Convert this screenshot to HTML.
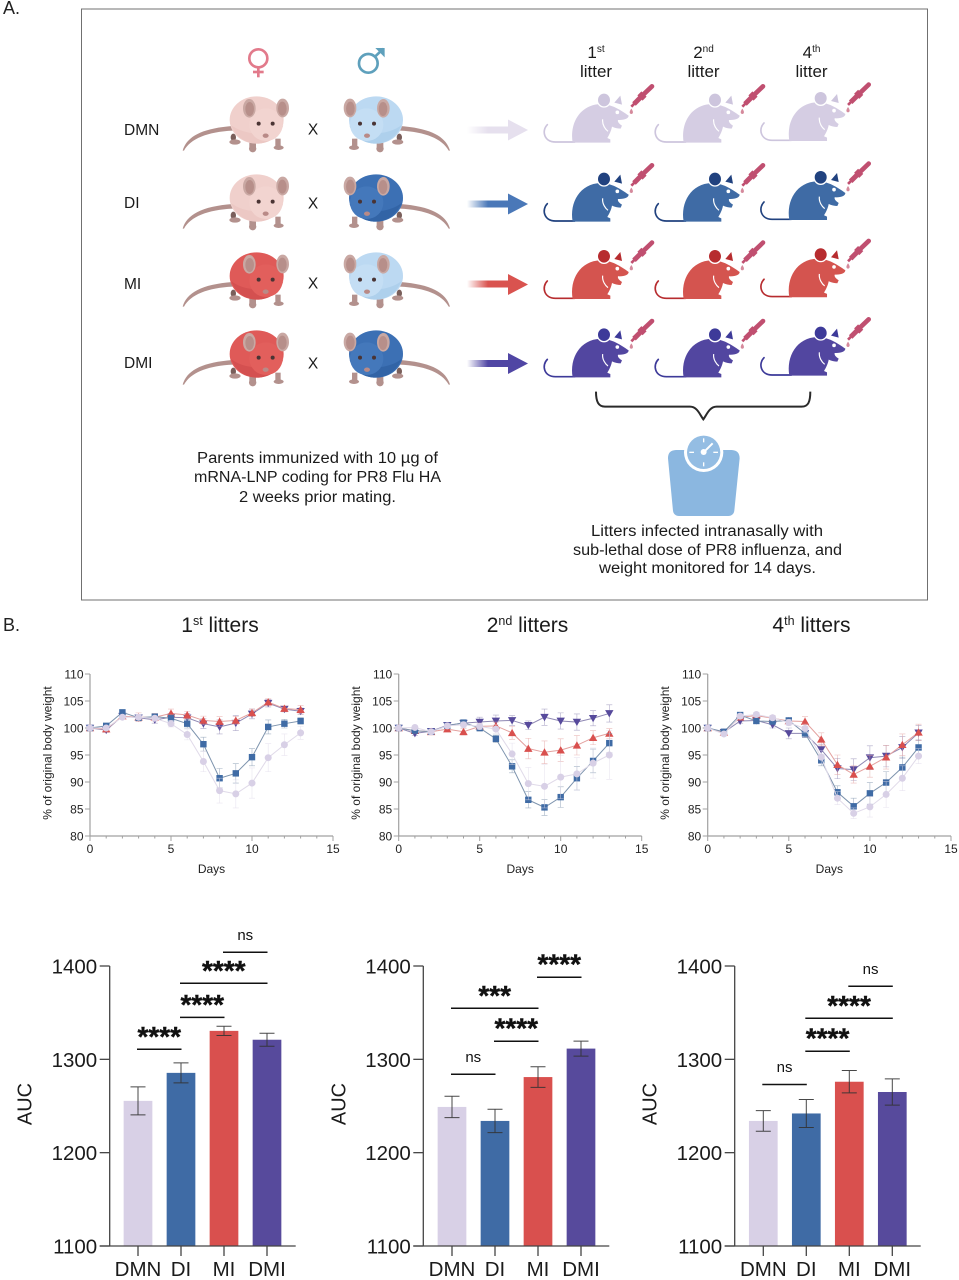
<!DOCTYPE html>
<html lang="en">
<head>
<meta charset="utf-8">
<title>Maternal and paternal immunization figure</title>
<style>
html,body{margin:0;padding:0;background:#fff;width:959px;height:1280px;overflow:hidden}
svg{display:block;font-family:"Liberation Sans",sans-serif}
.mm{fill:var(--m)}
.md{fill:var(--d)}
.mt{fill:none;stroke:var(--d);stroke-width:5;stroke-linecap:round}
.pb{fill:var(--body)}
.ph{fill:var(--head)}
.ps{fill:var(--shade)}
.schem{fill:#1b1b1b;font-size:15.5px}
.hdr{fill:#1b1b1b;font-size:17px}
</style>
</head>
<body>
<svg id="figure" xmlns="http://www.w3.org/2000/svg" width="959" height="1280" viewBox="0 0 959 1280">
<defs>
  <linearGradient id="fade-light" x1="0" x2="1" y1="0" y2="0"><stop offset="0" stop-color="#e6e0ee" stop-opacity="0"/><stop offset=".5" stop-color="#e6e0ee"/></linearGradient>
  <linearGradient id="fade-blue" x1="0" x2="1" y1="0" y2="0"><stop offset="0" stop-color="#4a78b8" stop-opacity="0"/><stop offset=".5" stop-color="#4a78b8"/></linearGradient>
  <linearGradient id="fade-red" x1="0" x2="1" y1="0" y2="0"><stop offset="0" stop-color="#d9534f" stop-opacity="0"/><stop offset=".5" stop-color="#d9534f"/></linearGradient>
  <linearGradient id="fade-purple" x1="0" x2="1" y1="0" y2="0"><stop offset="0" stop-color="#5046a4" stop-opacity="0"/><stop offset=".5" stop-color="#5046a4"/></linearGradient>

  <g id="parent-mouse">
    <path d="M38,362 C50,320 95,295 188,288 L188,302 C112,306 62,326 42,362 Z" fill="#b3918d"/>
    <ellipse cx="190" cy="322" rx="8" ry="11" fill="#7a5f5b"/>
    <ellipse cx="195" cy="336" rx="17" ry="8" fill="#b3918d"/>
    <ellipse cx="248" cy="356" rx="11" ry="11" fill="#b3918d"/>
    <ellipse cx="326" cy="353" rx="15" ry="7" fill="#b3918d"/>
    <rect x="238" y="328" width="20" height="24" fill="#b3918d"/>
    <rect x="316" y="326" width="16" height="24" fill="#b3918d"/>
    <ellipse class="pb" cx="260" cy="270" rx="81" ry="71"/>
    <path class="ps" d="M183,285 C200,322 225,339 260,341 C295,341 330,322 340,285 C330,308 240,328 183,285 Z"/>
    <ellipse class="ph" cx="288" cy="284" rx="50" ry="49"/>
    <ellipse cx="238" cy="235" rx="19" ry="28" fill="#c9a8a3"/>
    <ellipse cx="239" cy="237" rx="13" ry="21" fill="#b78f8a"/>
    <ellipse cx="338" cy="234" rx="19" ry="28" fill="#c9a8a3"/>
    <ellipse cx="337" cy="236" rx="13" ry="21" fill="#b78f8a"/>
    <circle cx="266" cy="281" r="6" fill="#4a3434"/>
    <circle cx="308" cy="281" r="6" fill="#4a3434"/>
    <ellipse cx="287" cy="317" rx="9" ry="6.5" fill="#b98a87"/>
  </g>

  <g id="litter-mouse">
    <path class="mt" d="M52,284 C34,302 42,336 76,336 L134,336"/>
    <path class="mm" d="M128,338 C118,280 150,224 212,222 C245,222 272,240 296,257 C296,265 284,271 264,270 C262,276 268,282 276,287 L272,296 C264,296 254,294 246,290 C244,302 238,314 232,324 L241,328 L241,338 Z"/>
    <ellipse class="md" cx="222" cy="210" rx="20" ry="21" stroke="#fff" stroke-width="4"/>
    <path class="md" d="M253,218 L271,197 L276,224 Z"/>
    <circle cx="262" cy="247" r="5.5" fill="#fff"/>
    <path d="M218,268 C216,284 226,298 234,304" fill="none" stroke="#fff" stroke-width="3.5"/>
    <g stroke="#c04f70" fill="none">
      <line x1="304" y1="230" x2="332" y2="202" stroke-width="8"/>
      <line x1="312" y1="222" x2="334" y2="200" stroke-width="15"/>
      <line x1="330" y1="204" x2="342" y2="192" stroke-width="22"/>
      <line x1="342" y1="192" x2="366" y2="169" stroke-width="14" stroke-linecap="round"/>
    </g>
    <path d="M304,236 C297,245 298,252 304,252 C310,252 311,245 304,236 Z" fill="#d58a9c"/>
  </g>
</defs>

<rect width="959" height="1280" fill="#fff"/>
<text x="3" y="14" font-size="18" fill="#222">A.</text>
<rect x="81.5" y="9" width="846" height="591" fill="none" stroke="#707070" stroke-width="1"/>

<g transform="translate(170,30) scale(.3333)" fill="none" stroke="#e27a8b" stroke-width="8">
  <circle cx="265" cy="85" r="27"/>
  <line x1="265" y1="112" x2="265" y2="142"/>
  <line x1="249" y1="126" x2="281" y2="126"/>
</g>
<g transform="translate(170,30) scale(.3333)" fill="none" stroke="#5ea0bc" stroke-width="8">
  <circle cx="595" cy="100" r="28"/>
  <line x1="615" y1="80" x2="640" y2="56"/>
  <path d="M616,54 L644,54 L644,82 Z" fill="#5ea0bc" stroke="none"/>
</g>

<text class="schem" x="124" y="135">DMN</text>
<text class="schem" x="124" y="208">DI</text>
<text class="schem" x="124" y="289">MI</text>
<text class="schem" x="124" y="368">DMI</text>

<g style="--body:#f0d0cc;--head:#f2d4d0;--shade:#ecc8c4"><use href="#parent-mouse" transform="translate(170,30) scale(.3333)"/></g>
<g style="--body:#f0d0cc;--head:#f2d4d0;--shade:#ecc8c4"><use href="#parent-mouse" transform="translate(170,108) scale(.3333)"/></g>
<g style="--body:#df5a58;--head:#e25f5c;--shade:#d45050"><use href="#parent-mouse" transform="translate(170,186) scale(.3333)"/></g>
<g style="--body:#df5a58;--head:#e25f5c;--shade:#d45050"><use href="#parent-mouse" transform="translate(170,264) scale(.3333)"/></g>

<g style="--body:#bcd9f2;--head:#c4def4;--shade:#aed0ec"><use href="#parent-mouse" transform="translate(170,30) translate(292.67,0) scale(-.3333,.3333)"/></g>
<g style="--body:#3c70b4;--head:#4478bb;--shade:#3264a6"><use href="#parent-mouse" transform="translate(170,108) translate(292.67,0) scale(-.3333,.3333)"/></g>
<g style="--body:#bcd9f2;--head:#c4def4;--shade:#aed0ec"><use href="#parent-mouse" transform="translate(170,186) translate(292.67,0) scale(-.3333,.3333)"/></g>
<g style="--body:#3c70b4;--head:#4478bb;--shade:#3264a6"><use href="#parent-mouse" transform="translate(170,264) translate(292.67,0) scale(-.3333,.3333)"/></g>

<text class="schem" x="313" y="134.5" text-anchor="middle">X</text>
<text class="schem" x="313" y="208.5" text-anchor="middle">X</text>
<text class="schem" x="313" y="288.5" text-anchor="middle">X</text>
<text class="schem" x="313" y="368.5" text-anchor="middle">X</text>

<g><rect x="467" y="126.5" width="42" height="7" fill="url(#fade-light)"/><path d="M508,119.5 L528,130 L508,140.5 Z" fill="#e6e0ee"/></g>
<g><rect x="467" y="200.5" width="42" height="7" fill="url(#fade-blue)"/><path d="M508,193.5 L528,204 L508,214.5 Z" fill="#4a78b8"/></g>
<g><rect x="467" y="280.5" width="42" height="7" fill="url(#fade-red)"/><path d="M508,274 L528,284.5 L508,295 Z" fill="#d9534f"/></g>
<g><rect x="467" y="360" width="42" height="7" fill="url(#fade-purple)"/><path d="M508,353 L528,363.5 L508,374 Z" fill="#5046a4"/></g>

<g class="hdr" text-anchor="middle">
  <text x="596" y="58">1<tspan font-size="10" dy="-6">st</tspan></text>
  <text x="596" y="77">litter</text>
</g>
<g class="hdr" text-anchor="middle">
  <text x="703.5" y="58">2<tspan font-size="10" dy="-6">nd</tspan></text>
  <text x="703.5" y="77">litter</text>
</g>
<g class="hdr" text-anchor="middle">
  <text x="811.5" y="58">4<tspan font-size="10" dy="-6">th</tspan></text>
  <text x="811.5" y="77">litter</text>
</g>

<g style="--m:#d5cde3;--d:#cdc5dd">
  <use href="#litter-mouse" transform="translate(530,30) scale(.3333)"/>
  <use href="#litter-mouse" transform="translate(641,30) scale(.3333)"/>
  <use href="#litter-mouse" transform="translate(746.7,28.3) scale(.3333)"/>
</g>
<g style="--m:#3f6ba5;--d:#21427f">
  <use href="#litter-mouse" transform="translate(530,109) scale(.3333)"/>
  <use href="#litter-mouse" transform="translate(641,109) scale(.3333)"/>
  <use href="#litter-mouse" transform="translate(746.7,107.3) scale(.3333)"/>
</g>
<g style="--m:#d4544f;--d:#b72c2f">
  <use href="#litter-mouse" transform="translate(530,186.3) scale(.3333)"/>
  <use href="#litter-mouse" transform="translate(641,186.3) scale(.3333)"/>
  <use href="#litter-mouse" transform="translate(746.7,184.6) scale(.3333)"/>
</g>
<g style="--m:#5246a0;--d:#3d3a99">
  <use href="#litter-mouse" transform="translate(530,264.7) scale(.3333)"/>
  <use href="#litter-mouse" transform="translate(641,264.7) scale(.3333)"/>
  <use href="#litter-mouse" transform="translate(746.7,263) scale(.3333)"/>
</g>

<path transform="translate(540,390) scale(.3333)" d="M168,5 C168,35 175,50 195,50 L450,50 C472,50 480,75 490,88 C500,75 508,50 530,50 L785,50 C805,50 811,35 811,5" fill="none" stroke="#2a2a2a" stroke-width="6"/>

<g transform="translate(540,390) scale(.3333)">
  <path d="M384,205 C384,188 392,181 408,180 L575,180 C590,181 599,188 599,205 L583,362 C582,372 575,378 565,378 L417,378 C407,378 400,372 399,362 Z" fill="#8bb7e0"/>
  <circle cx="491" cy="187" r="59" fill="#fff"/>
  <circle cx="491" cy="187" r="50" fill="#94bde3"/>
  <g stroke="#fff" stroke-width="4" fill="none">
    <line x1="491" y1="145" x2="491" y2="157"/>
    <line x1="491" y1="217" x2="491" y2="229"/>
    <line x1="448" y1="187" x2="462" y2="187"/>
    <line x1="520" y1="187" x2="534" y2="187"/>
    <line x1="491" y1="187" x2="518" y2="160" stroke-width="6"/>
  </g>
  <circle cx="491" cy="186" r="9" fill="#fff"/>
</g>

<g class="schem" font-size="16">
  <text x="197" y="463" textLength="241" lengthAdjust="spacingAndGlyphs">Parents immunized with 10 µg of</text>
  <text x="194" y="482" textLength="247" lengthAdjust="spacingAndGlyphs">mRNA-LNP coding for PR8 Flu HA</text>
  <text x="239" y="502" textLength="157" lengthAdjust="spacingAndGlyphs">2 weeks prior mating.</text>
</g>
<g class="schem" font-size="16">
  <text x="591" y="536" textLength="232" lengthAdjust="spacingAndGlyphs">Litters infected intranasally with</text>
  <text x="573" y="555" textLength="269" lengthAdjust="spacingAndGlyphs">sub-lethal dose of PR8 influenza, and</text>
  <text x="599" y="573" textLength="217" lengthAdjust="spacingAndGlyphs">weight monitored for 14 days.</text>
</g>

<text x="3" y="631" font-size="18" fill="#222">B.</text>
<text x="220" y="632" font-size="21" text-anchor="middle" fill="#1b1b1b">1<tspan font-size="12.5" dy="-7">st</tspan><tspan dy="7"> litters</tspan></text>
<text x="527.5" y="632" font-size="21" text-anchor="middle" fill="#1b1b1b">2<tspan font-size="12.5" dy="-7">nd</tspan><tspan dy="7"> litters</tspan></text>
<text x="811.5" y="632" font-size="21" text-anchor="middle" fill="#1b1b1b">4<tspan font-size="12.5" dy="-7">th</tspan><tspan dy="7"> litters</tspan></text>

<g id="charts"></g>
</svg>

<script>
// ---- line chart data -------------------------------------------------
const days = [0,1,2,3,4,5,6,7,8,9,10,11,12,13];
const dayTicks = [0,5,10,15];
const weightTicks = [80,85,90,95,100,105,110];
const groups = ['DMN','DI','MI','DMI'];

const dmnWeight1 = [100,100,102,102,101.8,100.8,98.8,93.8,88.4,87.8,89.8,94.5,96.9,99.1];
const diWeight1  = [100,100.4,102.9,101.9,102.1,101.8,100.8,97,90.7,91.6,94.6,100.2,100.8,101.3];
const miWeight1  = [100,99.8,102.2,102,102,102.7,102.4,101.4,101.2,101.4,102.8,104.8,103.6,103.4];
const dmiWeight1 = [100,99.6,102.2,101.9,101.5,102,101.9,100.8,100.2,100.9,102.6,104.6,103.5,103.1];
const dmnError1 = [0,.3,.3,.4,.4,.6,1,1.9,2.3,2.6,2.8,2.6,2,1.2];
const diError1  = [0,.3,.4,.5,.5,.7,.8,1.3,1.8,1.8,1.6,1.3,.8,.6];
const miError1  = [0,.3,.4,.8,.7,.8,.7,.8,.9,.7,.7,.6,.5,.8];
const dmiError1 = [0,.4,.4,.6,.6,.7,.8,.9,1.3,1.4,.9,.7,.5,.6];

const dmnWeight2 = [100,100.1,99.3,100.4,100.6,100.3,99.8,95.2,89.7,89.2,90.9,91.5,93.5,95];
const diWeight2  = [100,99.5,99.3,100.4,101,100,98,92.9,86.7,85.3,87.2,90.7,93.9,97.2];
const miWeight2  = [100,99.5,99.3,99.8,99.3,100.3,100.4,99.1,96.2,95.5,95.9,96.8,98.2,99];
const dmiWeight2 = [100,99,99.4,100.5,100.9,101.1,101.3,101.4,100.5,102,101.3,101.1,101.8,102.7];
const dmnError2 = [0,.3,.4,.4,.5,.6,.8,2,3,4,4,3,2.8,4.5];
const diError2  = [0,.3,.4,.4,.5,.6,.7,1.2,1.5,1.5,1.9,2.2,2.2,1.8];
const miError2  = [0,.3,.4,.5,.6,.6,.7,1.2,1.9,2.1,2.1,1.8,1.3,.9];
const dmiError2 = [0,.4,.4,.5,.6,.9,1.1,.9,.8,1.5,1.5,1.5,1.4,1.6];

const dmnWeight3 = [100,98.9,102.2,102.5,101.9,101,99.9,94.6,87,84.2,85.4,87.7,90.7,94.8];
const diWeight3  = [100,99.3,102.4,101.3,101.2,101.4,99,94,88.1,85.5,87.9,89.9,92.7,96.4];
const miWeight3  = [100,99.2,102,102.3,101.8,101.3,101.2,97.9,93.2,91.4,92.9,94.6,96.9,99.2];
const dmiWeight3 = [100,99.2,101.3,101.4,100.6,99,99,96,92.5,92.3,94.5,94.8,96.4,99.1];
const dmnError3 = [0,.3,.4,.4,.4,.6,.8,1.2,1.2,1,1.9,2.4,2.3,1.4];
const diError3  = [0,.3,.4,.4,.5,.5,.7,1,1.2,1.5,2,2,1.9,1.4];
const miError3  = [0,.3,.4,.5,.5,.6,.9,1.2,1.8,1.6,2,2.2,2,1.5];
const dmiError3 = [0,.3,.4,.5,.6,1,.8,1,1.9,2,2.2,2,2,1.4];

// ---- bar chart data --------------------------------------------------
const aucTicks = [1100,1200,1300,1400];
const aucMeans1 = [1255.5,1285.5,1330.5,1321];
const aucErrors1 = [15,10.7,5,7];
const aucMeans2 = [1249,1234,1281,1311.5];
const aucErrors2 = [11.5,12.5,11,8];
const aucMeans3 = [1234,1242,1276,1265];
const aucErrors3 = [11,15,12,14];

const sigLabels1 = ['****','****','****','ns'];
const sigFrom1 = [0,1,1,2];
const sigTo1 = [1,2,3,3];
const sigLevel1 = [1310.8,1345,1381.5,1414.7];

const sigLabels2 = ['ns','****','***','****'];
const sigFrom2 = [0,1,0,2];
const sigTo2 = [1,2,2,3];
const sigLevel2 = [1284,1319.4,1354.7,1388];

const sigLabels3 = ['ns','****','****','ns'];
const sigFrom3 = [0,1,1,2];
const sigTo3 = [1,2,3,3];
const sigLevel3 = [1273,1308.7,1344,1378.3];

// ---- drawing ---------------------------------------------------------
const SVGNS = 'http://www.w3.org/2000/svg';
const root = document.getElementById('charts');
const colors = {DMN:'#d8d0e6', DI:'#3f6ba5', MI:'#d9504e', DMI:'#574a9c'};
const lineColors = {DMN:'#e0dae9', DI:'#7d93ad', MI:'#e3a09e', DMI:'#8f88b3'};

function mk(tag, attrs, parent, text) {
  const el = document.createElementNS(SVGNS, tag);
  for (const k in attrs) el.setAttribute(k, attrs[k]);
  if (text !== undefined) el.textContent = text;
  parent.appendChild(el);
  return el;
}

function drawMarker(group, shape, cx, cy, color, parent) {
  let m;
  if (shape === 'square') {
    m = mk('rect', {x: cx - 3.2, y: cy - 3.2, width: 6.4, height: 6.4, fill: color}, parent);
  } else if (shape === 'circle') {
    m = mk('circle', {cx: cx, cy: cy, r: 3.5, fill: color}, parent);
  } else if (shape === 'up') {
    m = mk('polygon', {points: `${cx-4.2},${cy+3.3} ${cx+4.2},${cy+3.3} ${cx},${cy-4}`, fill: color}, parent);
  } else {
    m = mk('polygon', {points: `${cx-4.2},${cy-3.3} ${cx+4.2},${cy-3.3} ${cx},${cy+4}`, fill: color}, parent);
  }
  
  
}

function drawLineChart(idx, x0, x15, seriesList) {
  const top = 674, bottom = 836;
  const sx = d => x0 + (d / 15) * (x15 - x0);
  const sy = v => bottom - ((v - 80) / 30) * (bottom - top);
  const axisColor = '#a0a0a0';

  const g = mk('g', {}, root);
  
  

  const yAxis = mk('line', {x1: x0, x2: x0, y1: top, y2: bottom, stroke: axisColor, 'stroke-width': 1.2}, g);
  
  
  const xAxis = mk('line', {x1: x0, x2: x15, y1: bottom, y2: bottom, stroke: axisColor, 'stroke-width': 1.2}, g);
  
  

  weightTicks.forEach(v => {
    mk('line', {x1: x0 - 5, x2: x0, y1: sy(v), y2: sy(v), stroke: axisColor, 'stroke-width': 1}, g);
    const t = mk('text', {x: x0 - 6.5, y: sy(v) + 4.3, 'font-size': 12, 'text-anchor': 'end', fill: '#222'}, g, String(v));
    
    
  });
  for (let d = 0; d <= 15; d++) {
    const major = dayTicks.includes(d);
    mk('line', {x1: sx(d), x2: sx(d), y1: bottom, y2: bottom + (major ? 5 : 2.5), stroke: axisColor, 'stroke-width': 1}, g);
  }
  dayTicks.forEach(d => {
    const t = mk('text', {x: sx(d), y: 853, 'font-size': 12, 'text-anchor': 'middle', fill: '#222'}, g, String(d));
    
    
  });

  const xTitle = mk('text', {x: sx(7.5), y: 873, 'font-size': 12, 'text-anchor': 'middle', fill: '#222'}, g, 'Days');
  
  
  const yTitleX = x0 - 38.5;
  const yTitle = mk('text', {x: yTitleX, y: 753, 'font-size': 12, 'text-anchor': 'middle', fill: '#222', transform: `rotate(-90 ${yTitleX} 753)`}, g, '% of original body weight');
  
  

  seriesList.forEach(s => {
    const sg = mk('g', {}, g);
    
    
    days.forEach((d, i) => {
      if (s.errors[i] <= 0) return;
      const px = sx(d), hi = sy(s.values[i] + s.errors[i]), lo = sy(s.values[i] - s.errors[i]);
      const eb = mk('path', {d: `M${px-3},${hi}H${px+3}M${px},${hi}V${lo}M${px-3},${lo}H${px+3}`, fill: 'none', stroke: lineColors[s.group], 'stroke-width': .6, opacity: .7}, sg);
      
      
    });
    const pts = days.map((d, i) => sx(d) + ',' + sy(s.values[i])).join(' ');
    const line = mk('polyline', {points: pts, fill: 'none', stroke: lineColors[s.group], 'stroke-width': 1}, sg);
    
    
    days.forEach((d, i) => drawMarker(s.group, s.shape, sx(d), sy(s.values[i]), colors[s.group], sg));
  });
}

function drawBarChart(idx, axisX, firstTick, means, errors, sigLabels, sigFrom, sigTo, sigLevel) {
  const top = 966, bottom = 1246, axisEnd = axisX + 186;
  const step = 43;
  const barW = 28.7;
  const sx = i => firstTick + i * step;
  const sy = v => bottom - ((v - 1100) / 300) * (bottom - top);
  const axisColor = '#444';

  const g = mk('g', {}, root);
  
  

  groups.forEach((name, i) => {
    const bar = mk('rect', {x: sx(i) - barW / 2, y: sy(means[i]), width: barW, height: bottom - sy(means[i]), fill: colors[name]}, g);
    
    
  });
  groups.forEach((name, i) => {
    const px = sx(i), hi = sy(means[i] + errors[i]), lo = sy(means[i] - errors[i]);
    const eb = mk('path', {d: `M${px-7.5},${hi}H${px+7.5}M${px},${hi}V${lo}M${px-7.5},${lo}H${px+7.5}`, fill: 'none', stroke: '#333', 'stroke-width': 1, opacity: .9}, g);
    
    
  });

  const yAxis = mk('line', {x1: axisX, x2: axisX, y1: top, y2: bottom, stroke: axisColor, 'stroke-width': 1.3}, g);
  
  
  const xAxis = mk('line', {x1: axisX - 10, x2: axisEnd, y1: bottom, y2: bottom, stroke: axisColor, 'stroke-width': 1.3}, g);
  
  

  aucTicks.forEach(v => {
    mk('line', {x1: axisX - 10, x2: axisX, y1: sy(v), y2: sy(v), stroke: axisColor, 'stroke-width': 1.3}, g);
    const t = mk('text', {x: axisX - 12.5, y: sy(v) + 7.5, 'font-size': 20.5, 'text-anchor': 'end', fill: '#1b1b1b'}, g, String(v));
    
    
  });
  groups.forEach((name, i) => {
    mk('line', {x1: sx(i), x2: sx(i), y1: bottom, y2: bottom + 10, stroke: axisColor, 'stroke-width': 1.3}, g);
    const t = mk('text', {x: sx(i), y: 1276, 'font-size': 20.5, 'text-anchor': 'middle', fill: '#1b1b1b'}, g, name);
    
    
  });

  const titleX = axisX - 78;
  const title = mk('text', {x: titleX, y: 1104, 'font-size': 20, 'text-anchor': 'middle', fill: '#1b1b1b', transform: `rotate(-90 ${titleX} 1104)`}, g, 'AUC');
  
  

  sigLabels.forEach((label, k) => {
    const y = sy(sigLevel[k]);
    const a = sx(sigFrom[k]) - 1, b = sx(sigTo[k]) + 0.5;
    const br = mk('line', {x1: a, x2: b, y1: y, y2: y, stroke: '#111', 'stroke-width': 1.5}, g);
    
    
    const isNs = label === 'ns';
    const st = mk('text', {
      x: (a + b) / 2,
      y: isNs ? y - 12.5 : y - 3.5,
      'font-size': isNs ? 15 : 28,
      'font-weight': isNs ? 'normal' : 'bold',
      'text-anchor': 'middle',
      stroke: isNs ? 'none' : '#111',
      'stroke-width': isNs ? 0 : .4,
      fill: '#111'
    }, g, label);
    
    
  });
}

function seriesFor(dmi, dmiE, mi, miE, di, diE, dmn, dmnE) {
  return [
    {group: 'DMI', shape: 'down', values: dmi, errors: dmiE},
    {group: 'MI', shape: 'up', values: mi, errors: miE},
    {group: 'DI', shape: 'square', values: di, errors: diE},
    {group: 'DMN', shape: 'circle', values: dmn, errors: dmnE}
  ];
}

drawLineChart(1, 90, 333, seriesFor(dmiWeight1, dmiError1, miWeight1, miError1, diWeight1, diError1, dmnWeight1, dmnError1));
drawLineChart(2, 398.7, 641.7, seriesFor(dmiWeight2, dmiError2, miWeight2, miError2, diWeight2, diError2, dmnWeight2, dmnError2));
drawLineChart(3, 707.7, 951, seriesFor(dmiWeight3, dmiError3, miWeight3, miError3, diWeight3, diError3, dmnWeight3, dmnError3));

drawBarChart(1, 109.7, 138, aucMeans1, aucErrors1, sigLabels1, sigFrom1, sigTo1, sigLevel1);
drawBarChart(2, 423.3, 452, aucMeans2, aucErrors2, sigLabels2, sigFrom2, sigTo2, sigLevel2);
drawBarChart(3, 734.7, 763.3, aucMeans3, aucErrors3, sigLabels3, sigFrom3, sigTo3, sigLevel3);
</script>
</body>
</html>
